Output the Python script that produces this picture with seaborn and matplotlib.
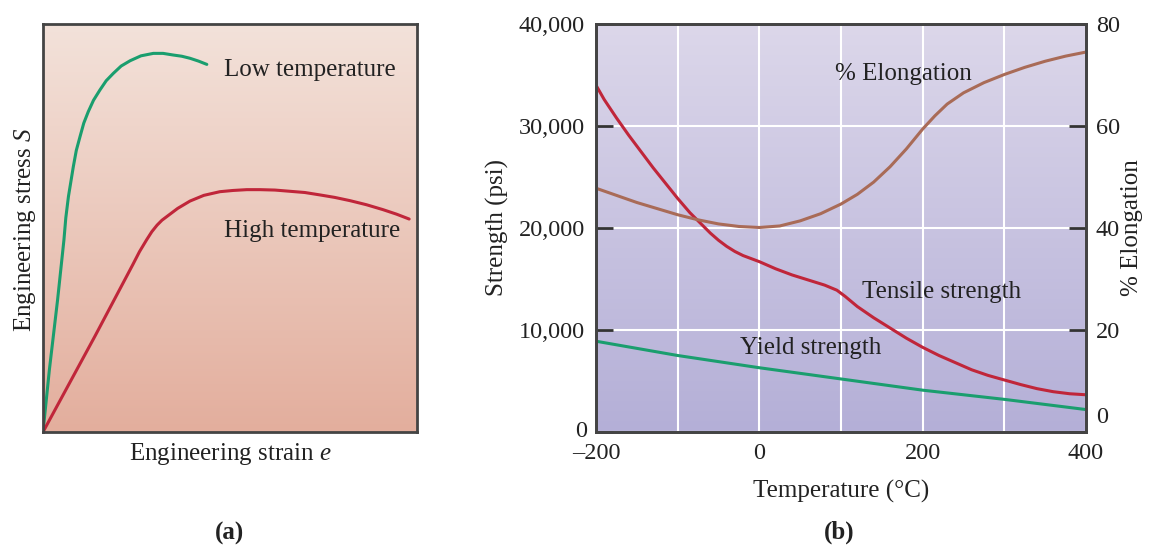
import numpy as np
import pandas as pd
import matplotlib
matplotlib.use("Agg")
import matplotlib.pyplot as plt
from matplotlib.colors import LinearSegmentedColormap
from matplotlib.transforms import ScaledTranslation
import seaborn as sns

# ---------------- data: panel (a) ----------------
low_strain = [0.0, 0.017, 0.039, 0.056, 0.061, 0.068, 0.081, 0.089, 0.099, 0.109,
              0.121, 0.135, 0.152, 0.169, 0.188, 0.209, 0.233, 0.262, 0.295, 0.321,
              0.348, 0.371, 0.393, 0.416, 0.438]
low_stress = [0.0, 0.152, 0.324, 0.471, 0.525, 0.577, 0.650, 0.690, 0.724, 0.757,
              0.785, 0.813, 0.838, 0.861, 0.879, 0.897, 0.910, 0.922, 0.928, 0.928,
              0.924, 0.921, 0.916, 0.909, 0.901]
high_strain = [0.0, 0.139, 0.240, 0.258, 0.277, 0.291, 0.305, 0.318, 0.331, 0.360,
               0.393, 0.430, 0.473, 0.508, 0.545, 0.580, 0.620, 0.660, 0.700, 0.741,
               0.780, 0.821, 0.865, 0.909, 0.945, 0.979]
high_stress = [0.0, 0.235, 0.410, 0.442, 0.471, 0.491, 0.507, 0.519, 0.528, 0.548,
               0.566, 0.580, 0.589, 0.592, 0.594, 0.594, 0.593, 0.590, 0.587, 0.581,
               0.575, 0.567, 0.557, 0.545, 0.534, 0.522]

# ---------------- data: panel (b) ----------------
tensile_T = [-200, -190, -175, -160, -145, -130, -115, -100, -85, -70, -60, -50, -40,
             -30, -20, -10, 0, 20, 40, 60, 80, 95, 105, 120, 140, 160, 180, 200, 220,
             240, 260, 280, 300, 320, 340, 360, 380, 400]
tensile_S = [34000, 32600, 30800, 29100, 27500, 25900, 24400, 22900, 21500, 20300,
             19500, 18800, 18200, 17700, 17300, 17000, 16700, 16000, 15400, 14900,
             14400, 13900, 13300, 12300, 11200, 10200, 9200, 8300, 7500, 6800, 6100,
             5550, 5100, 4650, 4250, 3950, 3750, 3650]
yield_T = [-200, -150, -100, -50, 0, 50, 100, 150, 200, 250, 300, 350, 400]
yield_S = [8900, 8200, 7500, 6900, 6300, 5750, 5200, 4650, 4100, 3650, 3200, 2700, 2200]
elong_T = [-200, -175, -150, -125, -100, -75, -50, -25, 0, 25, 50, 75, 100, 120, 140,
           160, 180, 200, 215, 230, 250, 275, 300, 325, 350, 375, 400]
elong_pct = [47.8, 46.4, 45.0, 43.8, 42.6, 41.6, 40.8, 40.3, 40.1, 40.4, 41.4, 42.8,
             44.7, 46.6, 49.0, 52.0, 55.5, 59.4, 62.0, 64.3, 66.5, 68.5, 70.1, 71.5,
             72.7, 73.7, 74.5]

x_ticks = [-200, -100, 0, 100, 200, 300, 400]
x_labels = ["\u2013200", "", "0", "", "200", "", "400"]
left_ticks = [0, 10000, 20000, 30000, 40000]
left_labels = ["0", "10,000", "20,000", "30,000", "40,000"]
right_ticks = [0, 20, 40, 60, 80]
right_labels = ["0", "20", "40", "60", "80"]

# ---------------- style ----------------
sns.set_style("white")
plt.rcParams["font.family"] = ["Liberation Serif", "DejaVu Serif"]
plt.rcParams["mathtext.fontset"] = "custom"
plt.rcParams["mathtext.rm"] = "Liberation Serif"
plt.rcParams["mathtext.it"] = "Liberation Serif:italic"
TXT = "#222222"
SPINE = "#444444"
GREEN = "#1a9e6e"
RED = "#c0263a"
BROWN = "#a96b57"
FS = 18
TFS = 17.5

fig = plt.figure(figsize=(11.5, 5.47), dpi=100)
axA = fig.add_axes([43 / 1150, 115 / 547, 374 / 1150, 408 / 547])
axB = fig.add_axes([596 / 1150, 115 / 547, 490 / 1150, 408 / 547])


def gradient(ax, top, bottom):
    cmap = LinearSegmentedColormap.from_list("g", [bottom, top])
    g = np.linspace(0, 1, 256).reshape(-1, 1)
    ax.imshow(g, cmap=cmap, origin="lower", extent=[0, 1, 0, 1],
              transform=ax.transAxes, aspect="auto", zorder=-5)


# ---------------- panel (a) ----------------
gradient(axA, "#f3e2da", "#e3ae9d")
dfl = pd.DataFrame({"strain": low_strain, "stress": low_stress})
dfh = pd.DataFrame({"strain": high_strain, "stress": high_stress})
sns.lineplot(data=dfl, x="strain", y="stress", ax=axA, color=GREEN, lw=2.2,
             sort=False, estimator=None)
sns.lineplot(data=dfh, x="strain", y="stress", ax=axA, color=RED, lw=2.2,
             sort=False, estimator=None)
axA.set_xlim(0, 1)
axA.set_ylim(0, 1)
axA.set_xticks([])
axA.set_yticks([])
axA.set_xlabel("Engineering strain $e$", fontsize=FS, color=TXT)
axA.set_ylabel("Engineering stress $S$", fontsize=FS, color=TXT)
axA.xaxis.set_label_coords(0.5, -0.022)
axA.yaxis.set_label_coords(-0.014, 0.495)
axA.text(0.484, 0.887, "Low temperature", fontsize=FS, color=TXT, ha="left", va="center")
axA.text(0.484, 0.493, "High temperature", fontsize=FS, color=TXT, ha="left", va="center")
for s in axA.spines.values():
    s.set_color(SPINE)
    s.set_linewidth(2)

# ---------------- panel (b) ----------------
gradient(axB, "#dcd7ea", "#b4afd7")
axB.set_xlim(-200, 400)
axB.set_ylim(0, 40000)
axB.set_xticks(x_ticks)
axB.set_xticklabels(x_labels)
axB.set_yticks(left_ticks)
axB.set_yticklabels(left_labels)
axB.grid(True, color="white", lw=1.5, zorder=-1)
axB.set_axisbelow(True)

dft = pd.DataFrame({"T": tensile_T, "S": tensile_S})
dfy = pd.DataFrame({"T": yield_T, "S": yield_S})
sns.lineplot(data=dft, x="T", y="S", ax=axB, color=RED, lw=2.2, sort=False, estimator=None)
sns.lineplot(data=dfy, x="T", y="S", ax=axB, color=GREEN, lw=2.2, sort=False, estimator=None)

axB.tick_params(axis="x", direction="in", length=16, width=2, color="#333333",
                labelsize=TFS, labelcolor=TXT, pad=8)
axB.tick_params(axis="y", direction="in", length=12, width=2, color="#333333",
                labelsize=TFS, labelcolor=TXT, pad=8)
axB.set_xlabel("Temperature (\u00b0C)", fontsize=FS, color=TXT)
axB.set_ylabel("Strength (psi)", fontsize=FS, color=TXT)
axB.xaxis.set_label_coords(0.5, -0.118)
axB.yaxis.set_label_coords(-0.178, 0.5)
lblL0 = axB.get_yticklabels()[0]
lblL0.set_transform(lblL0.get_transform() + ScaledTranslation(0.02, 0.03, fig.dpi_scale_trans))

ax2 = axB.twinx()
dfe = pd.DataFrame({"T": elong_T, "E": elong_pct})
sns.lineplot(data=dfe, x="T", y="E", ax=ax2, color=BROWN, lw=2.2, sort=False, estimator=None)
ax2.set_ylim(0, 80)
ax2.set_xlim(-200, 400)
ax2.set_yticks(right_ticks)
ax2.set_yticklabels(right_labels)
ax2.tick_params(axis="y", direction="in", length=12, width=2, color="#333333",
                labelsize=TFS, labelcolor=TXT, pad=7)
ax2.set_ylabel("% Elongation", fontsize=FS, color=TXT)
ax2.yaxis.set_label_coords(1.072, 0.5)
ax2.set_xlabel("")
lbl0 = ax2.get_yticklabels()[0]
lbl0.set_transform(lbl0.get_transform() + ScaledTranslation(0, 0.17, fig.dpi_scale_trans))

axB.text(92.6, 35100, "% Elongation", fontsize=FS, color=TXT, ha="left", va="center")
axB.text(125.7, 13700, "Tensile strength", fontsize=FS, color=TXT, ha="left", va="center")
axB.text(-23.7, 8240, "Yield strength", fontsize=FS, color=TXT, ha="left", va="center")

for a in (axB, ax2):
    for s in a.spines.values():
        s.set_color(SPINE)
        s.set_linewidth(2)

fig.text(229 / 1150, 1 - 533 / 547, "(a)", fontsize=FS, fontweight="bold",
         color=TXT, ha="center", va="center")
fig.text(839 / 1150, 1 - 532 / 547, "(b)", fontsize=FS, fontweight="bold",
         color=TXT, ha="center", va="center")

fig.savefig("out.png", dpi=100)
